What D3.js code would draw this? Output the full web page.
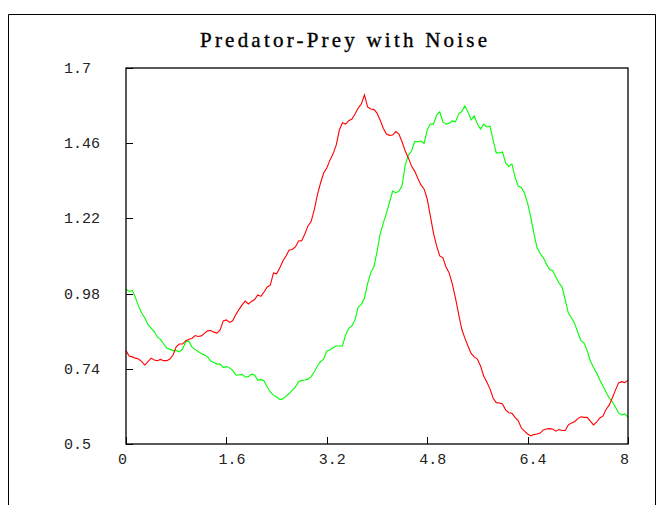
<!DOCTYPE html>
<html>
<head>
<meta charset="utf-8">
<script src="https://cdn.jsdelivr.net/npm/d3@7/dist/d3.min.js"></script>
<style>
  html, body { margin: 0; padding: 0; background: #fff; }
  svg { display: block; }
</style>
</head>
<body>
<svg id="chart" width="668" height="505"></svg>
<script>
const title = "Predator-Prey with Noise";

const times = [
  0,0.05,0.1,0.15,0.2,0.25,0.3,0.35,0.4,0.45,
  0.5,0.55,0.6,0.65,0.7,0.75,0.8,0.85,0.9,0.95,
  1,1.05,1.1,1.15,1.2,1.25,1.3,1.35,1.4,1.45,
  1.5,1.55,1.6,1.65,1.7,1.75,1.8,1.85,1.9,1.95,
  2,2.05,2.1,2.15,2.2,2.25,2.3,2.35,2.4,2.45,
  2.5,2.55,2.6,2.65,2.7,2.75,2.8,2.85,2.9,2.95,
  3,3.05,3.1,3.15,3.2,3.25,3.3,3.35,3.4,3.45,
  3.5,3.55,3.6,3.65,3.7,3.75,3.8,3.85,3.9,3.95,
  4,4.05,4.1,4.15,4.2,4.25,4.3,4.35,4.4,4.45,
  4.5,4.55,4.6,4.65,4.7,4.75,4.8,4.85,4.9,4.95,
  5,5.05,5.1,5.15,5.2,5.25,5.3,5.35,5.4,5.45,
  5.5,5.55,5.6,5.65,5.7,5.75,5.8,5.85,5.9,5.95,
  6,6.05,6.1,6.15,6.2,6.25,6.3,6.35,6.4,6.45,
  6.5,6.55,6.6,6.65,6.7,6.75,6.8,6.85,6.9,6.95,
  7,7.05,7.1,7.15,7.2,7.25,7.3,7.35,7.4,7.45,
  7.5,7.55,7.6,7.65,7.7,7.75,7.8,7.85,7.9,7.95,
  8
];

const redSeries = [
  0.798,0.781,0.778,0.774,0.771,0.763,0.752,0.763,0.774,0.768,
  0.766,0.770,0.766,0.766,0.771,0.784,0.810,0.819,0.819,0.829,
  0.834,0.837,0.846,0.843,0.845,0.853,0.861,0.862,0.857,0.854,
  0.864,0.893,0.896,0.888,0.893,0.913,0.929,0.944,0.956,0.947,
  0.955,0.961,0.976,0.971,0.985,1.001,1.007,1.046,1.043,1.062,
  1.084,1.100,1.119,1.121,1.129,1.148,1.149,1.170,1.196,1.210,
  1.247,1.295,1.333,1.365,1.381,1.406,1.426,1.454,1.502,1.525,
  1.521,1.532,1.537,1.553,1.572,1.585,1.614,1.576,1.569,1.568,
  1.556,1.534,1.508,1.489,1.485,1.486,1.497,1.489,1.464,1.435,
  1.413,1.387,1.371,1.348,1.327,1.314,1.282,1.228,1.173,1.132,
  1.100,1.094,1.065,1.046,1.011,0.966,0.915,0.867,0.838,0.813,
  0.789,0.778,0.771,0.749,0.717,0.698,0.676,0.647,0.632,0.631,
  0.628,0.609,0.600,0.598,0.585,0.575,0.551,0.541,0.532,0.526,
  0.530,0.532,0.535,0.545,0.548,0.549,0.548,0.541,0.546,0.543,
  0.543,0.561,0.567,0.571,0.581,0.587,0.585,0.585,0.573,0.561,
  0.570,0.583,0.589,0.610,0.624,0.647,0.672,0.695,0.699,0.696,
  0.704
];

const greenSeries = [
  0.994,0.987,0.990,0.968,0.940,0.918,0.902,0.881,0.870,0.859,
  0.841,0.834,0.819,0.806,0.802,0.798,0.798,0.794,0.803,0.826,
  0.829,0.810,0.802,0.795,0.789,0.784,0.778,0.765,0.760,0.755,
  0.755,0.744,0.747,0.743,0.735,0.720,0.720,0.722,0.714,0.715,
  0.723,0.720,0.703,0.706,0.701,0.682,0.666,0.656,0.650,0.642,
  0.644,0.653,0.661,0.672,0.682,0.699,0.703,0.704,0.707,0.715,
  0.730,0.749,0.763,0.771,0.797,0.800,0.808,0.813,0.813,0.813,
  0.848,0.869,0.877,0.896,0.937,0.945,0.966,1.011,1.047,1.065,
  1.113,1.170,1.205,1.237,1.272,1.307,1.302,1.307,1.325,1.390,
  1.422,1.435,1.465,1.465,1.467,1.459,1.502,1.521,1.521,1.550,
  1.560,1.528,1.521,1.524,1.531,1.528,1.553,1.561,1.579,1.560,
  1.534,1.547,1.521,1.505,1.521,1.512,1.515,1.470,1.429,1.429,
  1.432,1.397,1.386,1.394,1.352,1.323,1.319,1.301,1.269,1.224,
  1.173,1.127,1.108,1.095,1.074,1.057,1.054,1.033,1.014,1.001,
  0.960,0.918,0.902,0.885,0.856,0.830,0.822,0.798,0.765,0.744,
  0.727,0.704,0.685,0.666,0.647,0.635,0.618,0.599,0.593,0.596,
  0.585
];

const xTicks = [0, 1.6, 3.2, 4.8, 6.4, 8];
const xTickLabels = ["0", "1.6", "3.2", "4.8", "6.4", "8"];
const yTicks = [0.5, 0.74, 0.98, 1.22, 1.46, 1.7];
const yTickLabels = ["0.5", "0.74", "0.98", "1.22", "1.46", "1.7"];

const svg = d3.select("#chart");

const plot = { left: 126, right: 628, top: 68, bottom: 444 };

const x = d3.scaleLinear().domain([0, 8]).range([plot.left, plot.right]);
const y = d3.scaleLinear().domain([0.5, 1.7]).range([plot.bottom, plot.top]);

// outer frame
svg.append("path")
  .attr("d", "M8.5,505 V14.5 H655.5 V505")
  .attr("fill", "none")
  .attr("stroke", "#000")
  .attr("stroke-width", 1);

// title
svg.append("text")
  .attr("x", 200)
  .attr("y", 47)
  .attr("textLength", 287)
  .attr("lengthAdjust", "spacing")
  .attr("font-family", "'Liberation Serif', 'DejaVu Serif', serif")
  .attr("font-size", 21)
  .attr("font-weight", "normal")
  .attr("fill", "#000")
  .attr("stroke", "#000")
  .attr("stroke-width", 0.35)
  .text(title);

// series
const line = d3.line()
  .x((d, i) => x(times[i]))
  .y(d => y(d));

svg.append("path")
  .datum(greenSeries)
  .attr("d", line)
  .attr("fill", "none")
  .attr("stroke", "#00ff00")
  .attr("stroke-width", 1.1);

svg.append("path")
  .datum(redSeries)
  .attr("d", line)
  .attr("fill", "none")
  .attr("stroke", "#ff0000")
  .attr("stroke-width", 1.1);

// plot box
svg.append("rect")
  .attr("x", plot.left)
  .attr("y", plot.top)
  .attr("width", plot.right - plot.left)
  .attr("height", plot.bottom - plot.top)
  .attr("fill", "none")
  .attr("stroke", "#000")
  .attr("stroke-width", 1.3);

// y ticks (inward)
svg.append("g").selectAll("line")
  .data(yTicks)
  .join("line")
  .attr("x1", plot.left)
  .attr("x2", plot.left + 7)
  .attr("y1", d => Math.round(y(d)) + 0.5)
  .attr("y2", d => Math.round(y(d)) + 0.5)
  .attr("stroke", "#000")
  .attr("stroke-width", 1);

// x ticks (inward)
svg.append("g").selectAll("line")
  .data(xTicks)
  .join("line")
  .attr("x1", d => Math.round(x(d)) + 0.5)
  .attr("x2", d => Math.round(x(d)) + 0.5)
  .attr("y1", plot.bottom)
  .attr("y2", plot.bottom - 7)
  .attr("stroke", "#000")
  .attr("stroke-width", 1);

const tickFont = "'Liberation Mono', 'DejaVu Sans Mono', monospace";

// y labels
svg.append("g").selectAll("text")
  .data(yTicks)
  .join("text")
  .attr("x", 64)
  .attr("y", d => y(d) + 1)
  .attr("dominant-baseline", "middle")
  .attr("font-family", tickFont)
  .attr("font-size", 15)
  .attr("fill", "#222")
  .text((d, i) => yTickLabels[i]);

// x labels
svg.append("g").selectAll("text")
  .data(xTicks)
  .join("text")
  .attr("x", d => x(d) - 8)
  .attr("y", 464)
  .attr("font-family", tickFont)
  .attr("font-size", 15)
  .attr("fill", "#222")
  .text((d, i) => xTickLabels[i]);
</script>
</body>
</html>
